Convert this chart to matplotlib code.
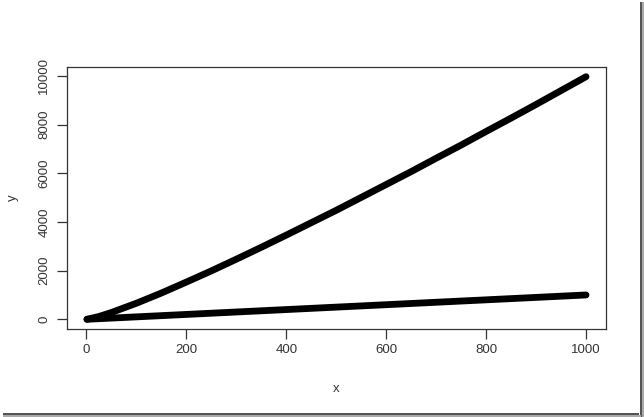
import matplotlib
matplotlib.use("Agg")
import matplotlib.pyplot as plt
from matplotlib.patches import Rectangle

# Data
x_vals = [1, 25, 50, 100, 150, 200, 250, 300, 350, 400, 450, 500,
          550, 600, 650, 700, 750, 800, 850, 900, 950, 1000]
y_upper = [0, 115, 280, 660, 1080, 1530, 1990, 2470, 2960, 3460, 3970, 4480,
           5010, 5540, 6070, 6620, 7160, 7720, 8270, 8830, 9400, 9970]
y_lower = [1, 25, 50, 100, 150, 200, 250, 300, 350, 400, 450, 500,
           550, 600, 650, 700, 750, 800, 850, 900, 950, 1000]
x_ticks = [0, 200, 400, 600, 800, 1000]
y_ticks = [0, 2000, 4000, 6000, 8000, 10000]

W, H = 644, 417
fig = plt.figure(figsize=(W / 100, H / 100), dpi=100)
fig.patch.set_facecolor("white")
plt.rcParams['font.family'] = ['Liberation Sans', 'DejaVu Sans']

ax = fig.add_axes([67 / W, (H - 329) / H, (606 - 67) / W, (329 - 67) / H])
for ys in (y_upper, y_lower):
    ax.plot(x_vals, ys, color="black", lw=4.9, solid_capstyle="round",
            solid_joinstyle="round")

xmin, xmax = 1, 1000
ymin, ymax = 0, 9970
dx = (xmax - xmin) * 0.04
dy = (ymax - ymin) * 0.04
ax.set_xlim(xmin - dx, xmax + dx)
ax.set_ylim(ymin - dy, ymax + dy)

ax.set_xticks(x_ticks)
ax.set_xticklabels([str(t) for t in x_ticks])
ax.set_yticks(y_ticks)
ax.set_yticklabels([str(t) for t in y_ticks], rotation=90, va="center")
ax.tick_params(axis="both", direction="out", length=7, width=0.9,
               colors="#333333", labelsize=9.5, labelcolor="#333333", pad=4)
ax.tick_params(axis="y", pad=5)
for s in ax.spines.values():
    s.set_linewidth(0.9)
    s.set_color("#333333")
ax.set_xlabel("x", fontsize=9.5, color="#333333", labelpad=19)
ax.set_ylabel("y", fontsize=9.5, color="#333333", labelpad=14)

# Screenshot shadow frame (right and bottom)
fig.add_artist(Rectangle((640 / W, 0), 2 / W, (H - 2) / H,
                         transform=fig.transFigure, color="#555555", lw=0))
fig.add_artist(Rectangle((642 / W, 0), 2 / W, (H - 2) / H,
                         transform=fig.transFigure, color="#aaaaaa", lw=0))
fig.add_artist(Rectangle((3 / W, (H - 415) / H), (639 - 3) / W, 2 / H,
                         transform=fig.transFigure, color="#555555", lw=0))
fig.add_artist(Rectangle((3 / W, (H - 417) / H), (641 - 3) / W, 2 / H,
                         transform=fig.transFigure, color="#aaaaaa", lw=0))

fig.savefig("out.png", dpi=100)
